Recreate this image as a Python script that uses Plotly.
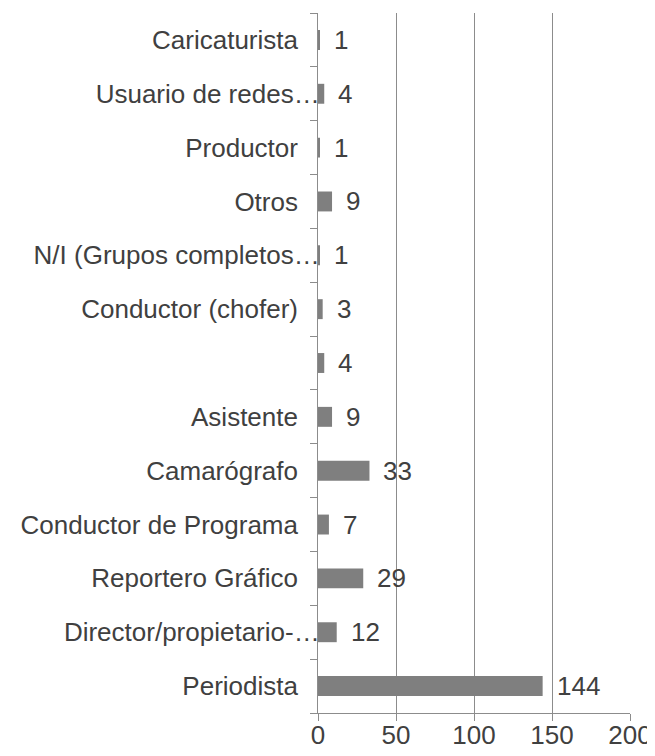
import plotly.graph_objects as go

categories = [
    "Periodista",
    "Director/propietario-…",
    "Reportero Gráfico",
    "Conductor de Programa",
    "Camarógrafo",
    "Asistente",
    " ",
    "Conductor (chofer)",
    "N/I (Grupos completos…",
    "Otros",
    "Productor",
    "Usuario de redes…",
    "Caricaturista",
]
values = [144, 12, 29, 7, 33, 9, 4, 3, 1, 9, 1, 4, 1]
x_ticks = [0, 50, 100, 150, 200]

FONT = "Liberation Sans, Arial, sans-serif"
TXT = "#404040"
LINE = "#8c8c8c"
NB = "\u00a0"

# truncated labels run right up to the axis, the others keep a gap
y_ticktext = [c if c.endswith("…") else c + NB * 3 for c in categories]

fig = go.Figure()
fig.add_trace(go.Bar(
    x=values, y=categories, orientation="h",
    marker=dict(color="#7f7f7f", line=dict(width=0)),
    hoverinfo="x+y",
))

for v, c in zip(values, categories):
    fig.add_annotation(x=v, y=c, text=str(v), showarrow=False,
                       xanchor="left", xshift=12,
                       font=dict(family=FONT, size=26, color=TXT))

# page body has an 8px default margin, so the figure is 8px smaller
fig.update_layout(
    width=647, height=748,
    margin=dict(l=310, r=25, t=5, b=43),
    paper_bgcolor="white", plot_bgcolor="white",
    bargap=0.63,
    showlegend=False,
    font=dict(family=FONT, size=26, color=TXT),
)
fig.update_xaxes(
    range=[0, 200], tickvals=x_ticks, ticktext=[str(t) for t in x_ticks],
    showgrid=True, gridcolor=LINE, gridwidth=1.3,
    zeroline=False, showline=True, linecolor=LINE, linewidth=1.3,
    ticks="outside", ticklen=7, tickcolor=LINE, tickwidth=1.3,
    ticklabelstandoff=-8,
    tickfont=dict(family=FONT, size=26, color=TXT),
    automargin=False,
)
fig.update_yaxes(
    type="category", categoryorder="array", categoryarray=categories,
    tickmode="array", tickvals=categories, ticktext=y_ticktext,
    showgrid=False, zeroline=False, showline=True, linecolor=LINE, linewidth=1.3,
    ticks="outside", ticklen=7, tickcolor=LINE, tickwidth=1.3,
    tickson="boundaries", ticklabelstandoff=-8,
    tickfont=dict(family=FONT, size=26, color=TXT),
    automargin=False,
)

fig.write_html("out.html")
